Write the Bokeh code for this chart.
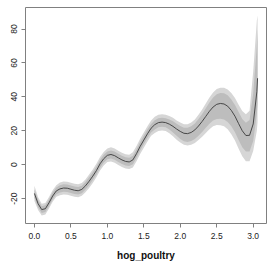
import numpy as np
from bokeh.plotting import figure
from bokeh.models import FixedTicker, Range1d
from bokeh.embed import file_html
from bokeh.resources import INLINE

# smooth term estimate for hog_poultry
x = [0.00, 0.05, 0.10, 0.15, 0.20, 0.25, 0.30, 0.35, 0.40, 0.45,
     0.50, 0.55, 0.60, 0.65, 0.70, 0.75, 0.80, 0.85, 0.90, 0.95,
     1.00, 1.05, 1.10, 1.15, 1.20, 1.25, 1.30, 1.35, 1.40, 1.45,
     1.50, 1.55, 1.60, 1.65, 1.70, 1.75, 1.80, 1.85, 1.90, 1.95,
     2.00, 2.05, 2.10, 2.15, 2.20, 2.25, 2.30, 2.35, 2.40, 2.45,
     2.50, 2.55, 2.60, 2.65, 2.70, 2.75, 2.80, 2.85, 2.90, 2.95,
     3.00, 3.05, 3.06]
fit = [-17.0, -23.0, -26.5, -26.0, -22.5, -18.5, -15.5, -14.3, -13.8, -13.9,
       -14.5, -15.1, -15.4, -14.6, -12.5, -9.8, -6.8, -3.5, 0.5, 3.5,
       5.5, 6.0, 5.3, 4.0, 2.8, 1.9, 1.6, 2.8, 6.5, 10.8,
       14.5, 18.2, 21.5, 23.6, 24.8, 25.1, 24.8, 23.9, 22.6, 21.0,
       19.6, 18.5, 18.3, 19.0, 20.5, 22.8, 25.5, 28.5, 31.5, 34.0,
       35.6, 36.1, 35.8, 34.5, 32.0, 28.6, 24.2, 20.0, 17.2, 17.3,
       24.0, 43.0, 51.0]
# band half-widths (inner = darker band, outer = lighter band)
inner_hi = [2.5, 2.2, 2.0, 2.0, 2.0, 2.0, 2.0, 2.2, 2.2, 2.2,
            2.2, 2.2, 2.2, 2.2, 2.2, 2.3, 2.3, 2.3, 2.3, 2.3,
            2.3, 2.4, 2.4, 2.4, 2.4, 2.4, 2.4, 2.5, 2.5, 2.5,
            2.5, 2.5, 2.5, 2.6, 2.6, 2.6, 2.6, 2.8, 3.0, 3.1,
            3.2, 3.3, 3.4, 3.6, 3.8, 4.1, 4.4, 4.8, 5.2, 5.6,
            6.0, 6.2, 6.3, 6.4, 6.5, 6.6, 6.8, 7.0, 7.5, 9.0,
            18.0, 27.0, 29.0]
inner_lo = [2.5, 2.2, 2.0, 2.0, 2.0, 2.0, 2.0, 2.2, 2.2, 2.2,
            2.2, 2.2, 2.2, 2.2, 2.2, 2.3, 2.3, 2.3, 2.3, 2.3,
            2.3, 2.4, 2.4, 2.4, 2.4, 2.4, 2.4, 2.5, 2.5, 2.5,
            2.5, 2.5, 2.5, 2.8, 2.8, 2.8, 2.8, 3.2, 3.6, 4.0,
            4.4, 4.7, 4.9, 5.0, 5.3, 5.7, 6.2, 6.8, 7.4, 8.0,
            8.6, 9.0, 9.2, 9.3, 9.4, 9.5, 9.6, 9.7, 9.5, 9.5,
            10.0, 13.0, 15.0]
outer_hi = [4.5, 3.8, 3.5, 3.4, 3.4, 3.4, 3.4, 3.8, 3.8, 3.8,
            3.8, 3.8, 3.8, 3.8, 3.8, 4.0, 4.0, 4.0, 4.0, 4.0,
            4.0, 4.2, 4.2, 4.2, 4.2, 4.2, 4.2, 4.5, 4.5, 4.5,
            4.5, 4.5, 4.5, 4.6, 4.6, 4.6, 4.6, 4.8, 5.0, 5.1,
            5.2, 5.4, 5.6, 5.8, 6.2, 6.6, 7.1, 7.6, 8.1, 8.6,
            9.0, 9.3, 9.6, 9.9, 10.3, 10.7, 11.2, 11.7, 12.5, 14.5,
            31.0, 42.0, 37.0]
outer_lo = [4.5, 3.8, 3.5, 3.4, 3.4, 3.4, 3.4, 3.8, 3.8, 3.8,
            3.8, 3.8, 3.8, 3.8, 3.8, 4.0, 4.0, 4.0, 4.0, 4.0,
            4.0, 4.2, 4.2, 4.2, 4.2, 4.2, 4.2, 4.5, 4.5, 4.5,
            4.5, 4.5, 4.5, 4.9, 4.9, 4.9, 4.9, 5.3, 5.8, 6.3,
            6.6, 6.8, 7.0, 7.3, 7.7, 8.3, 9.0, 9.8, 10.6, 11.4,
            12.2, 12.8, 13.2, 13.6, 14.0, 14.4, 14.8, 15.1, 15.2, 15.3,
            16.0, 23.0, 26.0]

x_ticks = [0.0, 0.5, 1.0, 1.5, 2.0, 2.5, 3.0]
x_tick_labels = ["0.0", "0.5", "1.0", "1.5", "2.0", "2.5", "3.0"]
y_ticks = [-20, 0, 20, 40, 60, 80]
y_tick_labels = ["-20", "0", "20", "40", "60", "80"]
x_label = "hog_poultry"

xa = np.array(x)
fa = np.array(fit)
o_lo = fa - np.array(outer_lo)
o_hi = fa + np.array(outer_hi)
i_lo = fa - np.array(inner_lo)
i_hi = fa + np.array(inner_hi)

xmin, xmax = xa.min(), xa.max()
ymin, ymax = o_lo.min(), o_hi.max()
xp = 0.04 * (xmax - xmin)
yp = 0.04 * (ymax - ymin)

p = figure(frame_width=241, frame_height=216,
           x_range=Range1d(xmin - xp, xmax + xp),
           y_range=Range1d(ymin - yp, ymax + yp),
           output_backend="svg", toolbar_location=None,
           min_border_left=25, min_border_right=2,
           min_border_top=7, min_border_bottom=10,
           background_fill_color="white", border_fill_color="white")

p.varea(x=xa, y1=o_lo, y2=o_hi, fill_color="#d6d6d6", fill_alpha=1.0)
p.varea(x=xa, y1=i_lo, y2=i_hi, fill_color="#bdbdbd", fill_alpha=1.0)
p.line(xa, fa, line_color="#3a3a3a", line_width=0.9)

p.grid.visible = False
p.outline_line_color = "#808080"
p.outline_line_width = 1

for ax in (p.xaxis[0], p.yaxis[0]):
    ax.axis_line_color = None
    ax.major_tick_line_color = "#808080"
    ax.minor_tick_line_color = None
    ax.major_tick_in = 0
    ax.major_tick_out = 4
    ax.major_label_text_font = "Liberation Sans"
    ax.major_label_text_font_size = "8.5px"
    ax.major_label_text_color = "#222222"

p.xaxis.ticker = FixedTicker(ticks=x_ticks)
p.xaxis.major_label_overrides = dict(zip(x_ticks, x_tick_labels))
p.xaxis.major_label_standoff = 5
p.xaxis.axis_label = x_label
p.xaxis.axis_label_text_font = "Liberation Sans"
p.xaxis.axis_label_text_font_style = "bold"
p.xaxis.axis_label_text_font_size = "10px"
p.xaxis.axis_label_text_color = "#111111"
p.xaxis.axis_label_standoff = 8

p.yaxis.ticker = FixedTicker(ticks=y_ticks)
p.yaxis.major_label_overrides = dict(zip(y_ticks, y_tick_labels))
p.yaxis.major_label_orientation = "vertical"
p.yaxis.major_label_standoff = 4

open("out.html", "w").write(file_html(p, INLINE))
